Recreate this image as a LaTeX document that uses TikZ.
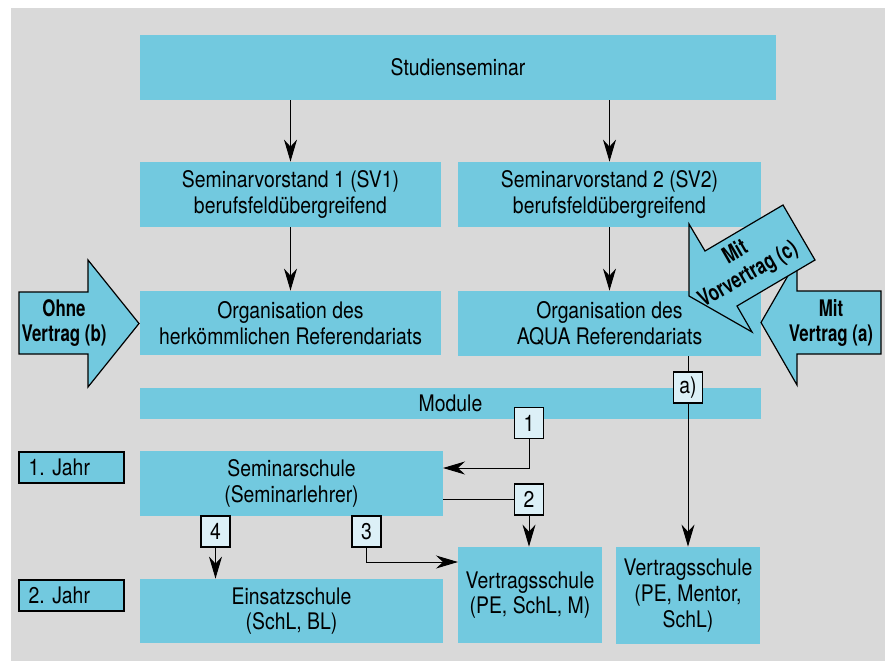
\documentclass[tikz,border=0pt]{standalone}
\usepackage{fontspec}
\setmainfont{TeX Gyre Heros}[FakeStretch=0.85]
\newfontfamily\arrowfont{TeX Gyre Heros}[FakeStretch=0.74]
\usetikzlibrary{arrows.meta}
\definecolor{boxblue}{HTML}{72C9DF}
\definecolor{numblue}{HTML}{DCF0F7}
\definecolor{bggray}{HTML}{D9D9D9}

\begin{document}
\begin{tikzpicture}[x=0.5pt, y=-0.5pt, >={Stealth[length=11pt,width=6.5pt,inset=3.5pt]},
  every node/.style={font=\fontsize{11.4}{12.8}\selectfont},
  box/.style={fill=boxblue, align=center, inner sep=0pt},
  num/.style={draw, fill=numblue, line width=0.7pt, minimum width=14.5pt, minimum height=15.5pt, inner sep=0pt},
  year/.style={draw, fill=boxblue, line width=0.8pt, minimum width=52.5pt, minimum height=15.5pt,
    text width=43pt, align=left, inner xsep=4.75pt, inner ysep=0pt},
  bigarrow/.style={draw, fill=boxblue, line width=0.6pt, line join=miter},
  arrowtext/.style={font=\fontsize{11.4}{12.8}\selectfont\arrowfont\bfseries, align=center},
  conn/.style={line width=0.5pt}]

  \useasboundingbox (0,0) rectangle (885,661);
  \fill[bggray] (11,8) rectangle (885,661);

  % boxes
  \node[box, minimum width=318pt, minimum height=32.5pt] (stud) at (458,67.5) {Studienseminar};
  \node[box, minimum width=150.5pt, minimum height=32.5pt] (sv1) at (290.5,194.5) {Seminarvorstand 1 (SV1)\\berufsfeldübergreifend};
  \node[box, minimum width=151.5pt, minimum height=32.5pt] (sv2) at (609.5,194.5) {Seminarvorstand 2 (SV2)\\berufsfeldübergreifend};
  \node[box, minimum width=150.5pt, minimum height=32pt] (org1) at (290.5,323) {Organisation des\\herkömmlichen Referendariats};
  \node[box, minimum width=151.5pt, minimum height=32.5pt] (org2) at (609.5,323.5) {Organisation des\\AQUA Referendariats};
  \node[box, minimum width=310.5pt, minimum height=15.5pt] (module) at (450.5,403.5) {Module};
  \node[box, minimum width=151.5pt, minimum height=32.5pt] (semschule) at (291.5,483.5) {Seminarschule\\(Seminarlehrer)};
  \node[box, minimum width=151.5pt, minimum height=32pt] (einsatz) at (291.5,611) {Einsatzschule\\(SchL, BL)};
  \node[box, minimum width=72pt, minimum height=48pt] (vs1) at (530,595) {Vertragsschule\\(PE, SchL, M)};
  \node[box, minimum width=72pt, minimum height=48.5pt] (vs2) at (688,595.5) {Vertragsschule\\(PE, Mentor,\\SchL)};

  \node[year] (jahr1) at (71.5,467.5) {1.\ Jahr};
  \node[year] (jahr2) at (71.5,595.5) {2.\ Jahr};

  % numbered labels
  \node[num] (la) at (688,387.5) {a)};
  \node[num] (l1) at (529,423) {1};
  \node[num] (l2) at (529,499.5) {2};
  \node[num] (l3) at (366.5,531.5) {3};
  \node[num] (l4) at (215.5,531.5) {4};

  \coordinate (in1) at (443,468);
  \coordinate (in3) at (458,562);

  % connectors
  \draw[conn,->] (sv1.north |- stud.south) -- (sv1.north);
  \draw[conn,->] (sv2.north |- stud.south) -- (sv2.north);
  \draw[conn,->] (sv1.south) -- (org1.north);
  \draw[conn,->] (sv2.south) -- (org2.north);
  \draw[conn] (la.north |- org2.south) -- (la.north);
  \draw[conn,->] (la.south) -- (vs2.north);
  \draw[conn,->] (l1.south) |- (in1);
  \draw[conn] (l2.west -| semschule.east) -- (l2.west);
  \draw[conn,->] (l2.south) -- (l2.south |- vs1.north);
  \draw[conn,->] (l3.south) |- (in3);
  \draw[conn,->] (l4.south) -- (l4.south |- einsatz.north);

  % big arrows
  \draw[bigarrow] (19,292) -- (88,292) -- (88,260) -- (139,323.5) -- (88,387) -- (88,354) -- (19,354) -- cycle;
  \node[arrowtext] (ohne) at (64,323) {Ohne\\Vertrag (b)};

  \draw[bigarrow] (881,291) -- (797,291) -- (797,260) -- (761,322.5) -- (797,385) -- (797,354) -- (881,354) -- cycle;
  \node[arrowtext] (mit) at (831,323) {Mit\\Vertrag (a)};

  \draw[bigarrow] (689,224) -- (705,251) -- (783,205) -- (815,260) -- (737,306) -- (752,332) -- (689,296) -- cycle;
  \node[arrowtext, rotate=30] (vorvertrag) at (742,264) {Mit\\Vorvertrag (c)};

\end{tikzpicture}
\end{document}
